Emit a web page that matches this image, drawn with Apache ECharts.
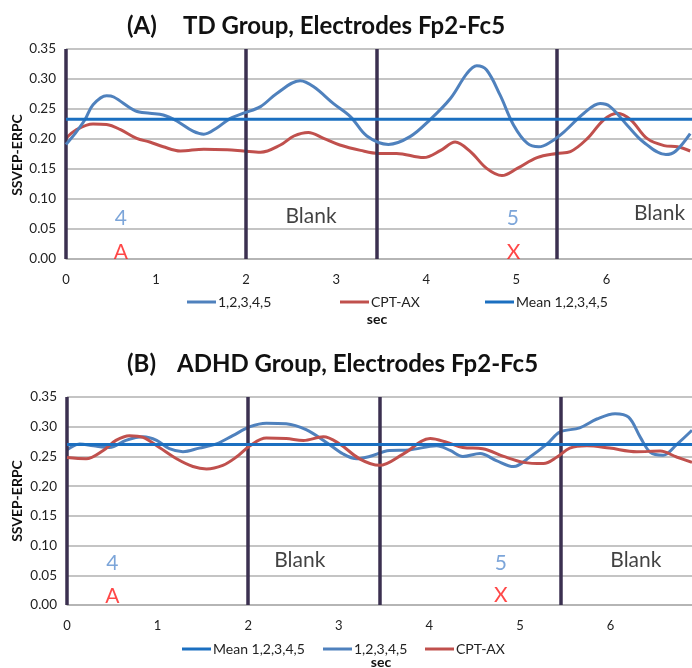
<!DOCTYPE html>
<html>
<head>
<meta charset="utf-8">
<script src="https://cdn.jsdelivr.net/npm/echarts@6/dist/echarts.min.js"></script>
<style>html,body{margin:0;padding:0;background:#fff}#c{width:692px;height:668px}</style>
</head>
<body>
<div id="c"></div>
<script>
// ---------- DATA ----------
// (A) TD group
const tdBlueT = [0,0.1,0.21,0.30,0.45,0.53,0.77,0.93,1.08,1.23,1.41,1.53,1.67,1.82,1.97,2.16,2.34,2.6,2.75,2.97,3.16,3.34,3.58,3.82,4.04,4.27,4.45,4.56,4.67,4.82,4.97,5.12,5.25,5.38,5.53,5.75,5.93,6.04,6.23,6.41,6.66,6.77,6.93];
const tdBlueV = [0.191,0.209,0.232,0.257,0.272,0.270,0.247,0.243,0.240,0.230,0.213,0.208,0.218,0.234,0.243,0.254,0.276,0.297,0.287,0.259,0.237,0.205,0.191,0.204,0.232,0.268,0.309,0.322,0.315,0.273,0.223,0.193,0.187,0.195,0.212,0.243,0.259,0.254,0.223,0.195,0.174,0.180,0.209];
const tdRedT = [0,0.11,0.30,0.45,0.6,0.785,0.93,1.08,1.27,1.53,1.79,1.97,2.16,2.38,2.53,2.69,2.86,3.04,3.27,3.47,3.67,3.97,4.16,4.32,4.49,4.67,4.84,5.01,5.23,5.45,5.6,5.79,5.97,6.12,6.27,6.45,6.64,6.79,6.93];
const tdRedV = [0.201,0.215,0.225,0.224,0.216,0.201,0.195,0.187,0.180,0.183,0.182,0.180,0.178,0.190,0.205,0.211,0.201,0.190,0.181,0.176,0.176,0.169,0.181,0.195,0.179,0.151,0.139,0.151,0.169,0.176,0.179,0.201,0.232,0.243,0.232,0.201,0.189,0.187,0.180];
const tdMean = 0.233;

// (B) ADHD group
const adBlueT = [0,0.14,0.29,0.47,0.65,0.84,0.99,1.13,1.28,1.46,1.65,1.83,2.02,2.2,2.42,2.64,2.86,3.05,3.2,3.34,3.56,3.78,4.08,4.23,4.37,4.56,4.74,4.93,5.11,5.3,5.44,5.66,5.85,6.05,6.2,6.33,6.44,6.58,6.73,6.9];
const adBlueV = [0.261,0.271,0.268,0.265,0.277,0.283,0.277,0.263,0.258,0.264,0.271,0.285,0.300,0.306,0.305,0.295,0.274,0.254,0.246,0.250,0.260,0.261,0.268,0.260,0.250,0.255,0.243,0.233,0.249,0.271,0.291,0.298,0.313,0.322,0.316,0.282,0.257,0.252,0.270,0.294];
const adRedT = [0,0.21,0.40,0.54,0.69,0.84,1.02,1.21,1.39,1.54,1.72,1.87,2.02,2.2,2.42,2.61,2.83,3.01,3.23,3.45,3.71,4.01,4.19,4.37,4.59,4.82,5.04,5.26,5.41,5.55,5.74,5.99,6.29,6.55,6.73,6.9];
const adRedV = [0.248,0.246,0.260,0.277,0.285,0.282,0.265,0.246,0.233,0.229,0.235,0.249,0.268,0.281,0.280,0.277,0.283,0.271,0.246,0.235,0.254,0.280,0.274,0.265,0.263,0.250,0.240,0.238,0.249,0.264,0.268,0.264,0.258,0.259,0.249,0.240];
const adMean = 0.270;

const boundaries = [0, 2, 3.45, 5.45];
const yTicks = [0, 0.05, 0.10, 0.15, 0.20, 0.25, 0.30, 0.35];
const xTicks = [0, 1, 2, 3, 4, 5, 6];

const tdNotes = [
  {text:'4', t:0.61, v:0.068, kind:'num'},
  {text:'A', t:0.61, v:0.012, kind:'let'},
  {text:'Blank', t:2.72, v:0.072, kind:'blank'},
  {text:'5', t:4.96, v:0.068, kind:'num'},
  {text:'X', t:4.97, v:0.012, kind:'let'},
  {text:'Blank', t:6.59, v:0.076, kind:'blank'}
];
const adNotes = [
  {text:'4', t:0.50, v:0.071, kind:'num'},
  {text:'A', t:0.50, v:0.015, kind:'let'},
  {text:'Blank', t:2.57, v:0.075, kind:'blank'},
  {text:'5', t:4.79, v:0.071, kind:'num'},
  {text:'X', t:4.79, v:0.017, kind:'let'},
  {text:'Blank', t:6.28, v:0.075, kind:'blank'}
];

// ---------- STYLE ----------
const FONT = 'Lato, "Open Sans", sans-serif';
const BLUE = '#4f81bd', RED = '#c0504d', MEAN = '#1b6fc0';
const noteColor = {num:'#5b8fd0', let:'#ff1a1a', blank:'#111'};
const X_MAX = [6.95, 6.9];

function zip(t, v){ return t.map((x,i)=>[x, v[i]]); }

const chart = echarts.init(document.getElementById('c'), null, {renderer:'canvas'});

function makeAxes(idx){
  return {
    x: {
      type:'value', gridIndex:idx, min:0, max:X_MAX[idx], interval:1,
      axisLine:{show:true, lineStyle:{color:'#b0b0b0', width:1.5}},
      axisTick:{show:false},
      splitLine:{show:false},
      axisLabel:{fontFamily:FONT, fontSize:13, color:'#222', margin:14,
        formatter:v=> xTicks.includes(v) ? String(v) : '', showMaxLabel:false}
    },
    y: {
      type:'value', gridIndex:idx, min:0, max:0.35, interval:0.05,
      axisLine:{show:false}, axisTick:{show:false},
      splitLine:{show:true, lineStyle:{color:'#b0b0b0', width:1.5}},
      axisLabel:{fontFamily:FONT, fontSize:13.5, color:'#222', margin:10,
        formatter:v=>v.toFixed(2)}
    }
  };
}
const a0 = makeAxes(0), a1 = makeAxes(1);

function lineSeries(name, data, color, idx, z){
  return {type:'line', name, xAxisIndex:idx, yAxisIndex:idx, data, smooth:0.35,
    showSymbol:false, symbol:'none', z,
    lineStyle:{color, width:3}, itemStyle:{color}};
}
function meanSeries(name, m, idx){
  const s = lineSeries(name, [[0,m],[X_MAX[idx],m]], MEAN, idx, 6);
  s.smooth = false;
  s.markLine = {symbol:'none', silent:true, animation:false, label:{show:false},
    lineStyle:{color:'#3b3050', width:3.5, type:'solid'},
    data: boundaries.map(b=>({xAxis:b}))};
  return s;
}
function noteSeries(notes, idx){
  return {type:'scatter', xAxisIndex:idx, yAxisIndex:idx, symbolSize:0, silent:true, z:7,
    data: notes.map(n=>({value:[n.t,n.v], label:{show:true, position:'inside',
      formatter:n.text, fontFamily:FONT, fontSize:21, color:noteColor[n.kind]}}))};
}

const legendBase = {orient:'horizontal', icon:'rect', itemWidth:29, itemHeight:3,
  textStyle:{fontFamily:FONT, fontSize:14, color:'#222', padding:[0,0,0,-3]}, itemGap:0, selectedMode:false};
function leg(name, left, top){ return Object.assign({}, legendBase, {data:[name], left, top}); }

const option = {
  animation:false,
  grid:[
    {left:66, right:0, top:49, height:210},
    {left:67, right:0, top:397, height:208}
  ],
  xAxis:[a0.x, a1.x],
  yAxis:[a0.y, a1.y],
  legend:[
    leg('1,2,3,4,5', 182, 290),
    leg('CPT-AX', 335, 290),
    leg('Mean 1,2,3,4,5', 480, 290),
    leg('Mean 1,2,3,4,5 ', 177, 637),
    leg('1,2,3,4,5 ', 318, 637),
    leg('CPT-AX ', 420, 637)
  ],
  series:[
    meanSeries('Mean 1,2,3,4,5', tdMean, 0),
    lineSeries('CPT-AX', zip(tdRedT, tdRedV), RED, 0, 3),
    lineSeries('1,2,3,4,5', zip(tdBlueT, tdBlueV), BLUE, 0, 5),
    noteSeries(tdNotes, 0),
    meanSeries('Mean 1,2,3,4,5 ', adMean, 1),
    lineSeries('1,2,3,4,5 ', zip(adBlueT, adBlueV), BLUE, 1, 3),
    lineSeries('CPT-AX ', zip(adRedT, adRedV), RED, 1, 5),
    noteSeries(adNotes, 1)
  ],
  graphic:[
    {type:'text', x:127, y:26, style:{text:'(A)', font:'bold 24px '+FONT, fill:'#111', textVerticalAlign:'middle'}},
    {type:'text', x:183, y:26, style:{text:'TD Group, Electrodes Fp2-Fc5', font:'bold 24px '+FONT, fill:'#111', textVerticalAlign:'middle'}},
    {type:'text', x:127, y:364, style:{text:'(B)', font:'bold 24px '+FONT, fill:'#111', textVerticalAlign:'middle'}},
    {type:'text', x:177, y:364, style:{text:'ADHD Group, Electrodes Fp2-Fc5', font:'bold 24px '+FONT, fill:'#111', textVerticalAlign:'middle'}},
    {type:'text', x:17, y:155, rotation:Math.PI/2, style:{text:'SSVEP-ERPC', font:'bold 14px '+FONT, fill:'#111', textAlign:'center', textVerticalAlign:'middle'}},
    {type:'text', x:17, y:501, rotation:Math.PI/2, style:{text:'SSVEP-ERPC', font:'bold 14px '+FONT, fill:'#111', textAlign:'center', textVerticalAlign:'middle'}},
    {type:'text', x:377, y:319, style:{text:'sec', font:'bold 14px '+FONT, fill:'#111', textAlign:'center', textVerticalAlign:'middle'}},
    {type:'text', x:381, y:662, style:{text:'sec', font:'bold 14px '+FONT, fill:'#111', textAlign:'center', textVerticalAlign:'middle'}}
  ]
};
chart.setOption(option);
</script>
</body>
</html>
